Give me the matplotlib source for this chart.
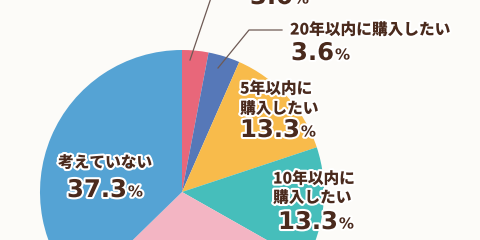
import matplotlib
matplotlib.use("Agg")
import matplotlib.pyplot as plt
import matplotlib.patheffects as pe

categories = ["", "20年以内に購入したい", "5年以内に\n購入したい", "10年以内に\n購入したい", "", "考えていない"]
values = [3.0, 3.6, 13.3, 13.3, 29.5, 37.3]
pct_labels = ["3.0", "3.6", "13.3", "13.3", "", "37.3"]
colors = ["#e8677a", "#5678b8", "#f8bb4b", "#46bebb", "#f3b5c3", "#55a3d4"]

BG = "#fcfbf8"
TXT = "#4a2a1d"
LINE = "#6e5a55"

fig = plt.figure(figsize=(4.8, 2.4), dpi=100, facecolor=BG)
ax = fig.add_axes([0, 0, 1, 1])
ax.set_facecolor(BG)

cx, cy, r = 182, 192, 142
ax.pie(values, colors=colors, startangle=-90, counterclock=True,
       center=(cx, cy), radius=r, wedgeprops=dict(linewidth=0))
ax.set_xlim(0, 480)
ax.set_ylim(240, 0)
ax.set_aspect("equal")
ax.axis("off")

jp = ["Noto Sans CJK JP", "DejaVu Sans"]
num = ["DejaVu Sans"]
stroke = [pe.withStroke(linewidth=3, foreground="white")]

def label_text(x, y, s, size=11.3, pitch=20):
    for i, line in enumerate(s.split("\n")):
        ax.text(x, y + i * pitch, line, fontsize=size, fontweight="heavy", color=TXT,
                family=jp, ha="left", va="center", path_effects=stroke)

def pct(x, y, s, size=17.5):
    t = ax.text(x, y, s, fontsize=size, fontweight="bold", color=TXT, family=num,
                ha="left", va="center", path_effects=stroke)
    fig.canvas.draw()
    bb = t.get_window_extent()
    inv = ax.transData.inverted()
    xr, _ = inv.transform((bb.x1, bb.y0))
    ax.text(xr + 1, y + 2, "%", fontsize=size * 0.62, fontweight="bold", color=TXT,
            family=num, ha="left", va="center", path_effects=stroke)

# leader lines
ax.plot([190, 212], [60, -5], color=LINE, lw=0.9)
ax.plot([218, 249, 282], [68, 30, 30], color=LINE, lw=0.9)

# labels
pct(250, -3, pct_labels[0])
label_text(290, 30, categories[1])
pct(291, 53, pct_labels[1])
label_text(240, 89, categories[2])
pct(240, 130, pct_labels[2])
label_text(273, 179, categories[3], pitch=19)
pct(278, 222, pct_labels[3])
label_text(58, 163, categories[5])
pct(67, 190, pct_labels[5])

fig.savefig("out.png", dpi=100, facecolor=BG)
